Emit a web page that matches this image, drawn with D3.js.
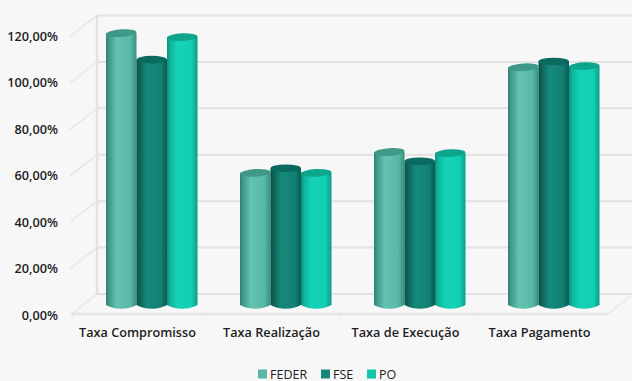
<!DOCTYPE html>
<html>
<head>
<meta charset="utf-8">
<script src="https://cdn.jsdelivr.net/npm/d3@7"></script>
<style>
html,body{margin:0;padding:0;background:#f7f7f7;}
svg{display:block;font-family:"Open Sans",sans-serif;}
</style>
</head>
<body>
<svg id="chart" width="632" height="381"></svg>
<script>
const categories = ["Taxa Compromisso", "Taxa Realização", "Taxa de Execução", "Taxa Pagamento"];
const seriesNames = ["FEDER", "FSE", "PO"];
const feder = [116.7, 56.5, 65.5, 102];
const fse = [105.3, 58.5, 61.5, 104.5];
const po = [115, 56.5, 65, 102.5];
const tickValues = [0, 20, 40, 60, 80, 100, 120];
const legendColors = ["#5bb8a8", "#158a7c", "#12c4a8"];
const barShades = [
  ["#347f72", "#3f9a89", "#64c2b0", "#5ab8a6", "#348f7f"],
  ["#0a5048", "#0d6257", "#16897b", "#128073", "#0a5a50"],
  ["#0c8f7b", "#0fb39a", "#15d3b7", "#12cfb2", "#0c9c86"]
];
const stopOffsets = [0, 0.1, 0.35, 0.8, 1];
const topShades = ["#3f9888", "#0b6a5f", "#0ea58d"];
const topTilt = [-4, 0, -2.5];
const values = [feder, fse, po];

const svg = d3.select("#chart");
const frontLeft = 72, frontRight = 608, y0 = 314, y120 = 35.5;
const dx = 25, dy = 20;

const x = d3.scaleBand().domain(categories).range([frontLeft, frontRight]);
const xInner = d3.scaleBand().domain(seriesNames).range([0, 91.5]);
const y = d3.scaleLinear().domain([0, 120]).range([y0, y120]);
const wallColor = "#e2e2e2";
const sideColor = "#e8e8e8";

// Back wall, side wall and floor of the 3D frame
const frame = svg.append("g").attr("fill", "none");
tickValues.forEach(t => {
  frame.append("line")
    .attr("x1", frontLeft + dx).attr("x2", frontRight + dx)
    .attr("y1", y(t) - dy).attr("y2", y(t) - dy)
    .attr("stroke", wallColor).attr("stroke-width", 2);
  frame.append("line")
    .attr("x1", frontLeft - 2).attr("x2", frontLeft + dx)
    .attr("y1", y(t) + 1).attr("y2", y(t) - dy)
    .attr("stroke", sideColor).attr("stroke-width", 1.6);
});
frame.append("line")
  .attr("x1", frontLeft + dx).attr("x2", frontLeft + dx)
  .attr("y1", y(120) - dy).attr("y2", y(0) - dy)
  .attr("stroke", wallColor).attr("stroke-width", 2.5);
frame.append("line")
  .attr("x1", frontLeft).attr("x2", frontRight)
  .attr("y1", y(0)).attr("y2", y(0))
  .attr("stroke", "#e4e4e4").attr("stroke-width", 2.5);
frame.append("line")
  .attr("x1", frontRight).attr("x2", frontRight + dx)
  .attr("y1", y(0)).attr("y2", y(0) - dy)
  .attr("stroke", sideColor).attr("stroke-width", 1.6);
x.domain().forEach(c => {
  frame.append("line")
    .attr("x1", x(c)).attr("x2", x(c))
    .attr("y1", y(0)).attr("y2", y(0) + 4)
    .attr("stroke", "#e4e4e4").attr("stroke-width", 1);
});

// Horizontal shading for the cylinders
const defs = svg.append("defs");
barShades.forEach((stops, i) => {
  const g = defs.append("linearGradient").attr("id", "cyl" + i);
  stopOffsets.forEach((o, k) => {
    g.append("stop").attr("offset", o).attr("stop-color", stops[k]);
  });
});

// Cylinders
const barW = xInner.bandwidth();
const rx = barW / 2, ry = 3.8;
const groupShift = 34;
const depthY = 10;
categories.forEach((c, ci) => {
  seriesNames.forEach((s, si) => {
    const left = x(c) + groupShift + xInner(s);
    const v = values[si][ci];
    const top = y(v) - depthY;
    const bottom = y(0) - depthY + 1;
    const path = d3.path();
    path.moveTo(left, top);
    path.lineTo(left, bottom);
    path.bezierCurveTo(left + rx * 0.5, bottom + ry * 1.3, left + rx * 1.5, bottom + ry * 1.3, left + barW, bottom);
    path.lineTo(left + barW, top);
    path.closePath();
    svg.append("path").attr("d", path.toString()).attr("fill", `url(#cyl${si})`);
    svg.append("ellipse")
      .attr("cx", left + rx).attr("cy", top).attr("rx", rx).attr("ry", ry)
      .attr("transform", `rotate(${topTilt[si]} ${left + rx} ${top})`)
      .attr("fill", topShades[si]);
  });
});

// Axis labels
const yAxis = d3.axisLeft(y).tickValues(tickValues).tickSize(0).tickPadding(0)
  .tickFormat(d => d3.format(".2f")(d).replace(".", ",") + "%");
const yG = svg.append("g").attr("transform", "translate(58,1)").call(yAxis);
yG.select(".domain").remove();
yG.selectAll("text")
  .attr("font-size", 12.7).attr("font-weight", 600).attr("fill", "#1e1e1e")
  .attr("font-family", '"Open Sans",sans-serif');

const xAxis = d3.axisBottom(x).tickSize(0).tickPadding(0);
const xG = svg.append("g").attr("transform", `translate(-1.5,${y0 + 14})`).call(xAxis);
xG.select(".domain").remove();
xG.selectAll("text")
  .attr("font-size", 12.7).attr("font-weight", 600).attr("fill", "#1e1e1e")
  .attr("font-family", '"Open Sans",sans-serif');

// Legend
const legendX = d3.scaleOrdinal().domain(seriesNames).range([258, 321, 367]);
const legend = svg.append("g");
seriesNames.forEach((s, i) => {
  legend.append("rect")
    .attr("x", legendX(s)).attr("y", 369.5).attr("width", 9).attr("height", 9)
    .attr("fill", legendColors[i]);
  legend.append("text")
    .attr("x", legendX(s) + 12).attr("y", 378.5)
    .attr("font-size", 12.5).attr("fill", "#222").text(s);
});
</script>
</body>
</html>
